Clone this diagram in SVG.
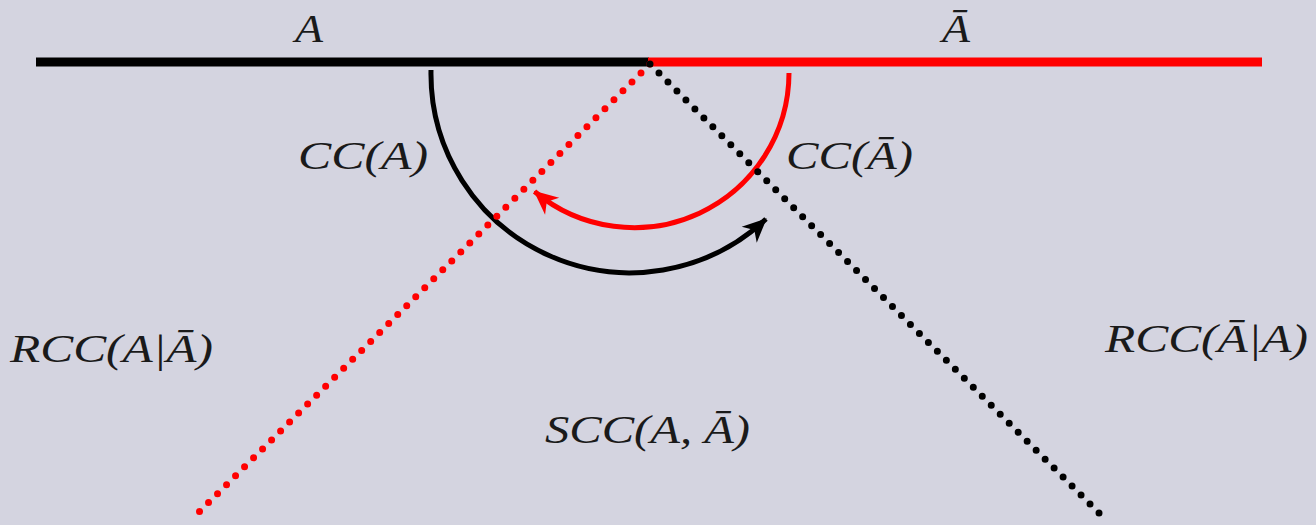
<svg xmlns="http://www.w3.org/2000/svg" width="1316" height="525" viewBox="0 0 1316 525">
  <style>
    .math { font-family: "Liberation Serif", "DejaVu Serif", serif; font-style: italic; font-size: 41px; fill: #1a1a1a; }
    .bar { fill: none; stroke-width: 9; stroke-linecap: butt; }
    .dots { fill: none; stroke-width: 7; stroke-linecap: round; stroke-dasharray: 0 12.7; }
    .arc { fill: none; stroke-width: 5; }
    .black { stroke: #000; }
    .red { stroke: #f00; }
  </style>
  <defs>
    <marker id="arrow-black" markerUnits="userSpaceOnUse" viewBox="-26 -13 28 26" refX="0" refY="0" markerWidth="28" markerHeight="26" orient="auto">
      <path d="M1,0 L-23,-11 L-16,0 L-23,11 Z" fill="#000"/>
    </marker>
    <marker id="arrow-red" markerUnits="userSpaceOnUse" viewBox="-26 -13 28 26" refX="0" refY="0" markerWidth="28" markerHeight="26" orient="auto">
      <path d="M1,0 L-23,-11 L-16,0 L-23,11 Z" fill="#f00"/>
    </marker>
  </defs>
  <rect width="1316" height="525" fill="#d4d4e0"/>

  <g id="region-A">
    <line class="bar black" x1="36" y1="62" x2="649" y2="62"/>
    <text class="math" x="295" y="42" textLength="28" lengthAdjust="spacingAndGlyphs">A</text>
  </g>
  <g id="region-Abar">
    <line class="bar red" x1="648" y1="62" x2="1262" y2="62"/>
    <text class="math" x="942" y="42" textLength="28" lengthAdjust="spacingAndGlyphs">Ā</text>
  </g>

  <g id="connectors">
    <path id="arc-CC-A" class="arc black" d="M431,70 A199,199 0 0 0 766,219" marker-end="url(#arrow-black)"/>
    <path id="arc-CC-Abar" class="arc red" d="M789,73 A155,155 0 0 1 534.5,191.5" marker-end="url(#arrow-red)"/>
    <line id="boundary-red" class="dots red" x1="650" y1="64" x2="193" y2="518"/>
    <line id="boundary-black" class="dots black" x1="650" y1="64" x2="1104" y2="518"/>
  </g>

  <g id="label-CC-A">
    <text class="math" x="298" y="169" textLength="130" lengthAdjust="spacingAndGlyphs">CC(A)</text>
  </g>
  <g id="label-CC-Abar">
    <text class="math" x="786" y="169" textLength="127" lengthAdjust="spacingAndGlyphs">CC(Ā)</text>
  </g>
  <g id="label-RCC-A-Abar">
    <text class="math" x="10" y="362" textLength="203" lengthAdjust="spacingAndGlyphs">RCC(A|Ā)</text>
  </g>
  <g id="label-RCC-Abar-A">
    <text class="math" x="1105" y="352" textLength="203" lengthAdjust="spacingAndGlyphs">RCC(Ā|A)</text>
  </g>
  <g id="label-SCC">
    <text class="math" x="545" y="443" textLength="205" lengthAdjust="spacingAndGlyphs">SCC(A, Ā)</text>
  </g>
</svg>
